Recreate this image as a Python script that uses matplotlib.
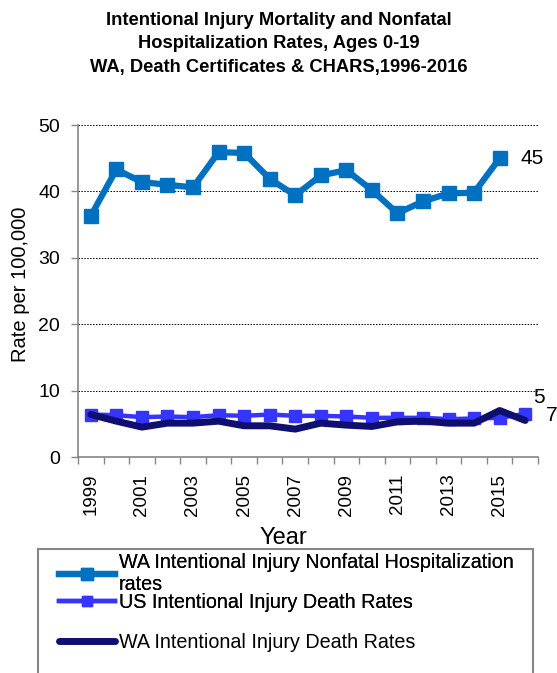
import matplotlib
matplotlib.use('Agg')
import matplotlib.pyplot as plt
from matplotlib.patches import Rectangle
import numpy as np

plt.rcParams['font.family'] = ['Liberation Sans', 'DejaVu Sans']

years = list(range(1999, 2017))
hosp_years = list(range(1999, 2016))
wa_hosp = [36.3, 43.3, 41.4, 41.0, 40.6, 45.9, 45.8, 41.9, 39.4, 42.4, 43.2, 40.2, 36.7, 38.5, 39.7, 39.8, 45.0]
us_death = [6.4, 6.3, 6.0, 6.1, 6.0, 6.3, 6.2, 6.4, 6.2, 6.2, 6.1, 5.9, 5.9, 5.9, 5.7, 5.8, 5.9, 6.5]
wa_death = [6.4, 5.4, 4.5, 5.1, 5.1, 5.4, 4.7, 4.7, 4.2, 5.1, 4.8, 4.6, 5.3, 5.4, 5.1, 5.1, 7.0, 5.5]
year_labels = [str(y) if y % 2 == 1 else '' for y in years]

title = ('Intentional Injury Mortality and Nonfatal\n'
         'Hospitalization Rates, Ages 0-19\n'
         'WA, Death Certificates & CHARS,1996-2016')
labels = ['WA Intentional Injury Nonfatal Hospitalization\nrates',
          'US Intentional Injury Death Rates',
          'WA Intentional Injury Death Rates']

c_hosp, c_us, c_wa = '#0070C0', '#3535FF', '#0F0F70'
axis_grey = '#868686'

fig = plt.figure(figsize=(5.57, 6.73), dpi=100)
ax = fig.add_axes([78 / 557, 1 - 457 / 673, 460 / 557, 332 / 673])

x_all = np.arange(len(years))
x_hosp = np.arange(len(hosp_years))

l1, = ax.plot(x_hosp, wa_hosp, color=c_hosp, lw=4.5, marker='s', ms=10, zorder=4)
l2, = ax.plot(x_all, us_death, color=c_us, lw=3.2, marker='s', ms=8.5, zorder=3)
l3, = ax.plot(x_all, wa_death, color=c_wa, lw=5, solid_capstyle='round', zorder=5)

ax.annotate(f'{wa_hosp[-1]:.0f}', (x_hosp[-1], wa_hosp[-1]), xytext=(15, 0),
            textcoords='offset points', ha='left', va='center', fontsize=15)
ax.annotate('5', (x_all[-1], us_death[-1]), xytext=(6, 12),
            textcoords='offset points', ha='left', va='center', fontsize=15,
            annotation_clip=False)
ax.annotate('7', (x_all[-1], wa_death[-1]), xytext=(15, 3.5),
            textcoords='offset points', ha='left', va='center', fontsize=15,
            annotation_clip=False)

ax.set_xlim(-0.5, len(years) - 0.5)
ax.set_ylim(0, 50)
ax.set_yticks([0, 10, 20, 30, 40, 50])
ax.yaxis.grid(True, color='black', linestyle=(0, (1.5, 1.5)), lw=0.7)
ax.set_axisbelow(True)

# category axis: ticks between categories, labels at category centers
ax.set_xticks(np.arange(-0.5, len(years), 1.0))
ax.set_xticklabels([])
ax.set_xticks(x_all, minor=True)
ax.set_xticklabels(year_labels, minor=True, rotation=90, fontsize=13.5)
ax.tick_params(axis='x', which='minor', length=0, pad=12)
ax.tick_params(axis='x', which='major', length=5, color=axis_grey, width=1)
ax.tick_params(axis='y', length=5, color=axis_grey, width=1, labelsize=14, pad=8)

for s in ['top', 'right']:
    ax.spines[s].set_visible(False)
for s in ['left', 'bottom']:
    ax.spines[s].set_color(axis_grey)
    ax.spines[s].set_linewidth(1.2)

ax.set_xlabel('Year', fontsize=17)
ax.xaxis.set_label_coords(0.446, -0.21)
ax.set_ylabel('Rate per 100,000', fontsize=14.5)
ax.yaxis.set_label_coords(-0.104, 0.52)

fig.text(0.5, 1 - 12 / 673, title, ha='center', va='top', fontsize=13.2,
         fontweight='bold', linespacing=1.5)

# legend box runs past the bottom edge, as in the source
fig.patches.append(Rectangle((38 / 557, -0.05), 495 / 557, 0.05 + 124 / 673,
                             transform=fig.transFigure, fill=False,
                             edgecolor=axis_grey, lw=1.5))
leg1 = fig.legend([l1, l2], labels[:2], loc='upper left',
                  bbox_to_anchor=(47 / 557, 1 - 541 / 673), frameon=False,
                  fontsize=14.2, handlelength=2.85, handletextpad=0.2,
                  labelspacing=-0.05, markerscale=0.8, borderpad=0.1)
leg2 = fig.legend([l3], labels[2:], loc='center left',
                  bbox_to_anchor=(47 / 557, 1 - 642 / 673), frameon=False,
                  fontsize=14.2, handlelength=2.85, handletextpad=0.2,
                  borderpad=0.1)
fig.add_artist(leg1)

fig.savefig('out.png', dpi=100)
